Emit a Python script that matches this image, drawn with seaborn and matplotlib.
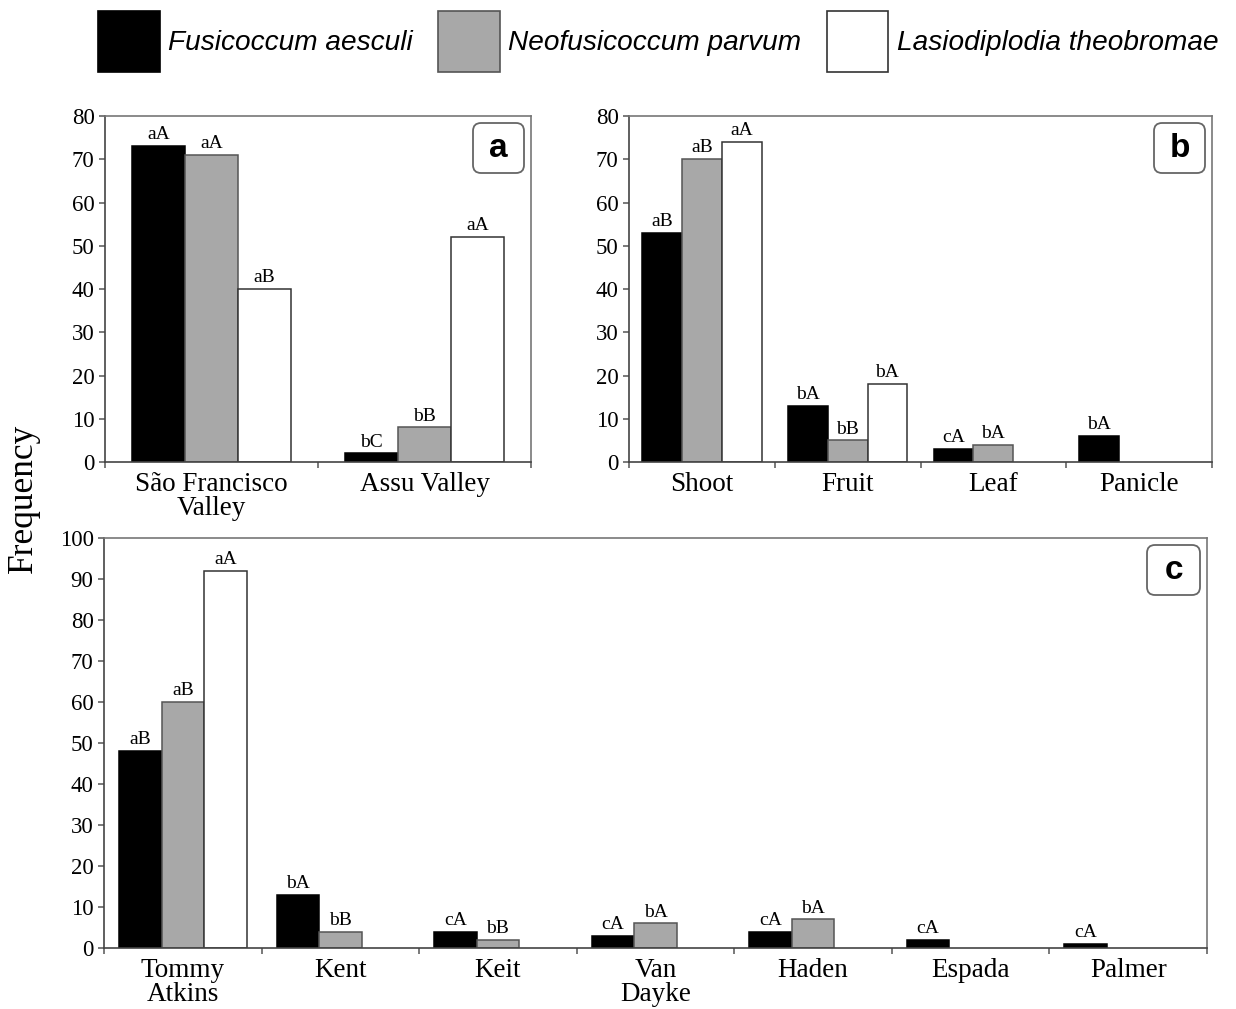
import numpy as np
import pandas as pd
import matplotlib.pyplot as plt
import matplotlib.transforms as mtransforms
from matplotlib.patches import FancyBboxPatch, Patch
import seaborn as sns

species = ["Fusicoccum aesculi", "Neofusicoccum parvum", "Lasiodiplodia theobromae"]
bar_colors = ["#000000", "#a8a8a8", "#ffffff"]
edge_colors = ["#000000", "#555555", "#333333"]

# (a) region
regions = ["São Francisco\nValley", "Assu Valley"]
region_fa = [73, 2]
region_np = [71, 8]
region_lt = [40, 52]
region_fa_lbl = ["aA", "bC"]
region_np_lbl = ["aA", "bB"]
region_lt_lbl = ["aB", "aA"]

# (b) organ
organs = ["Shoot", "Fruit", "Leaf", "Panicle"]
organ_fa = [53, 13, 3, 6]
organ_np = [70, 5, 4, 0]
organ_lt = [74, 18, 0, 0]
organ_fa_lbl = ["aB", "bA", "cA", "bA"]
organ_np_lbl = ["aB", "bB", "bA", ""]
organ_lt_lbl = ["aA", "bA", "", ""]

# (c) cultivar
cultivars = ["Tommy\nAtkins", "Kent", "Keit", "Van\nDayke", "Haden", "Espada", "Palmer"]
cult_fa = [48, 13, 4, 3, 4, 2, 1]
cult_np = [60, 4, 2, 6, 7, 0, 0]
cult_lt = [92, 0, 0, 0, 0, 0, 0]
cult_fa_lbl = ["aB", "bA", "cA", "cA", "cA", "cA", "cA"]
cult_np_lbl = ["aB", "bB", "bB", "bA", "bA", "", ""]
cult_lt_lbl = ["aA", "", "", "", "", "", ""]

sns.set_theme(style="ticks")
plt.rcParams["font.family"] = ["Liberation Serif", "DejaVu Serif"]
plt.rcParams["text.color"] = "black"
plt.rcParams["xtick.labelcolor"] = "black"
plt.rcParams["ytick.labelcolor"] = "black"

W, H = 1236, 1009
fig = plt.figure(figsize=(W / 100, H / 100), dpi=100)


def px_axes(left, right, top, bottom):
    return fig.add_axes([left / W, 1 - bottom / H, (right - left) / W, (bottom - top) / H])


def panel(ax, cats, series, labels, width, ymax, letter, box_w=0.51):
    df = pd.DataFrame({
        "cat": [c for c in cats for _ in species],
        "species": species * len(cats),
        "freq": [s[i] for i in range(len(cats)) for s in series],
    })
    sns.barplot(data=df, x="cat", y="freq", hue="species", order=cats,
                hue_order=species, palette=bar_colors, saturation=1,
                width=width, errorbar=None, edgecolor="#333333",
                linewidth=1.1, legend=False, ax=ax)
    for cont, ec, lbls in zip(ax.containers, edge_colors, labels):
        for p in cont.patches:
            p.set_edgecolor(ec)
            if p.get_height() == 0:
                p.set_linewidth(0)
        ax.bar_label(cont, labels=lbls, padding=2, fontsize=14, color="black")
    n = len(cats)
    ax.set_xlim(-0.5, n - 0.5)
    ax.set_ylim(0, ymax)
    ax.set_yticks(np.arange(0, ymax + 1, 10))
    ax.set_xticks(np.arange(-0.5, n), labels=[])
    ax.set_xticks(np.arange(n), labels=cats, minor=True)
    ax.tick_params(axis="x", which="major", length=4.5, width=1.1, color="#555555")
    ax.tick_params(axis="x", which="minor", length=0, pad=7, labelsize=19.5,
                   labelcolor="black")
    ax.tick_params(axis="y", length=4.5, width=1.1, color="#555555", pad=3,
                   labelsize=16.5, labelcolor="black")
    for lbl in ax.get_xticklabels(minor=True):
        lbl.set_linespacing(0.95)
    ax.set_xlabel("")
    ax.set_ylabel("")
    for name, sp in ax.spines.items():
        sp.set_visible(True)
        sp.set_linewidth(1.2)
        sp.set_color("#444444" if name in ("left", "bottom") else "#777777")
    trans = fig.dpi_scale_trans + mtransforms.ScaledTranslation(1, 1, ax.transAxes)
    x0 = -0.07 - box_w
    ax.add_patch(FancyBboxPatch((x0, -0.57), box_w, 0.50,
                                boxstyle="round,pad=0,rounding_size=0.08",
                                transform=trans, fc="white", ec="#666666",
                                lw=1.3, clip_on=False, zorder=5))
    ax.text(x0 + box_w / 2, -0.325, letter, transform=trans, ha="center",
            va="center", fontsize=24, fontweight="bold", color="black",
            family="Liberation Sans", zorder=6)


ax_a = px_axes(105, 531, 116, 462)
panel(ax_a, regions, [region_fa, region_np, region_lt],
      [region_fa_lbl, region_np_lbl, region_lt_lbl], 0.75, 80, "a")

ax_b = px_axes(629, 1212, 116, 462)
panel(ax_b, organs, [organ_fa, organ_np, organ_lt],
      [organ_fa_lbl, organ_np_lbl, organ_lt_lbl], 0.82, 80, "b")

ax_c = px_axes(104, 1207, 538, 948)
panel(ax_c, cultivars, [cult_fa, cult_np, cult_lt],
      [cult_fa_lbl, cult_np_lbl, cult_lt_lbl], 0.81, 100, "c", box_w=0.53)

fig.text(23 / W, 1 - 498 / H, "Frequency", rotation=90, ha="center",
         va="center", fontsize=25.5, color="black")

handles = [Patch(facecolor=fc, edgecolor=ec, linewidth=1.2)
           for fc, ec in zip(bar_colors, edge_colors)]
leg = fig.legend(handles=handles, labels=species, loc="upper left",
                 bbox_to_anchor=(98 / W, 1 - 11 / H), ncol=3, frameon=False,
                 prop=dict(family="Liberation Sans", style="italic", size=20.2),
                 handlelength=2.2, handleheight=2.95, handletextpad=0.3,
                 columnspacing=0.9, borderpad=0, borderaxespad=0)
for t in leg.get_texts():
    t.set_color("black")

plt.savefig("out.png", dpi=100)
plt.close()
